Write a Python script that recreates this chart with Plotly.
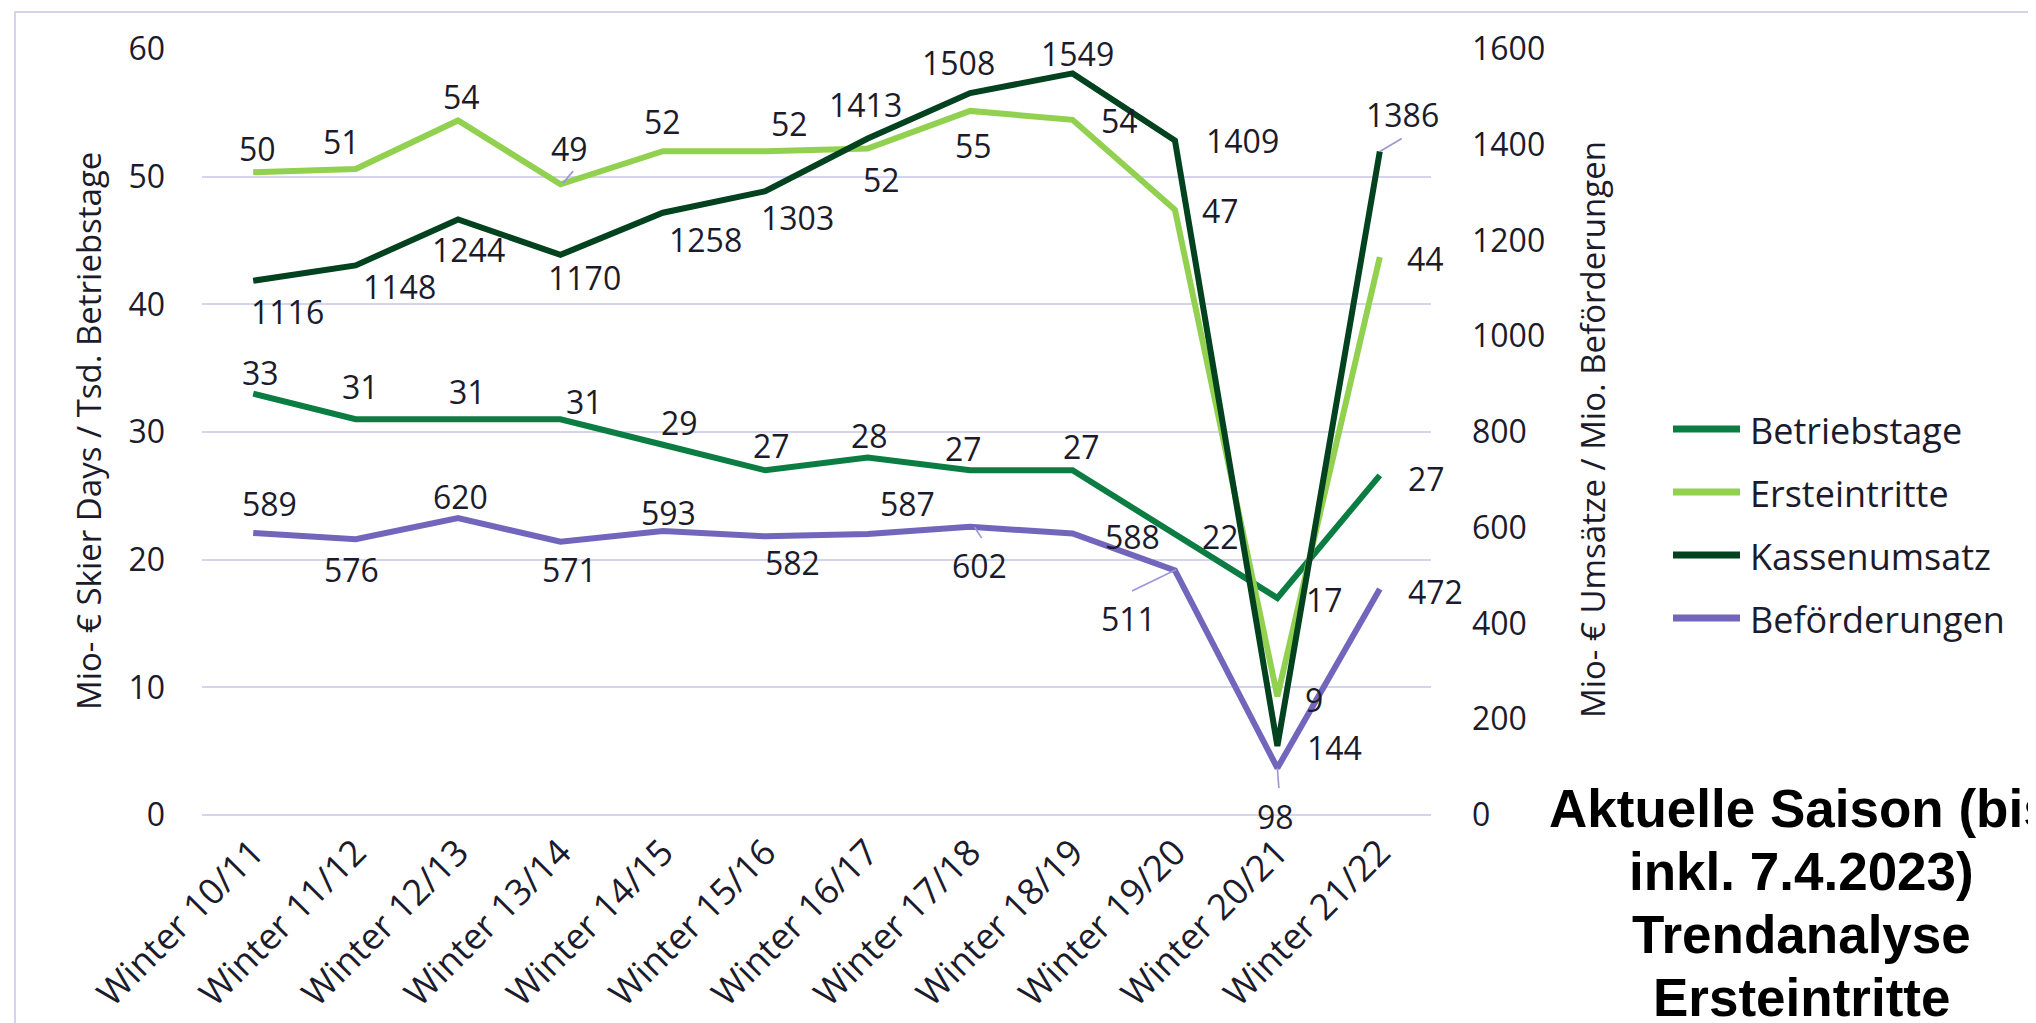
import plotly.graph_objects as go

# ---------------- data ----------------
categories = ["Winter 10/11", "Winter 11/12", "Winter 12/13", "Winter 13/14",
              "Winter 14/15", "Winter 15/16", "Winter 16/17", "Winter 17/18",
              "Winter 18/19", "Winter 19/20", "Winter 20/21", "Winter 21/22"]
betriebstage = [33, 31, 31, 31, 29, 27, 28, 27, 27, 22, 17, 26.6]
ersteintritte = [50.35, 50.6, 54.4, 49.4, 52.0, 52.0, 52.2, 55.15, 54.45, 47.4, 9.3, 43.7]
kassenumsatz = [1116, 1148, 1244, 1170, 1258, 1303, 1413, 1508, 1549, 1409, 144, 1386]
befoerderungen = [589, 576, 620, 571, 593, 582, 587, 602, 588, 511, 98, 472]

left_ticks = [0, 10, 20, 30, 40, 50, 60]
right_ticks = [0, 200, 400, 600, 800, 1000, 1200, 1400, 1600]

# ---------------- styles / positions ----------------
W, H = 2036, 1023
PL, PR, PT, PB = 194, 1423, 41, 807  # plot area in pixels

C_BETR = "#0B7D43"
C_ERST = "#92D050"
C_KASS = "#02421F"
C_BEF = "#7266BC"
C_TEXT = "#1B1B2B"
C_GRID = "#D6D4EC"
C_LEAD = "#9C96D6"
FONT = "Open Sans, Noto Sans, sans-serif"
LABEL_SIZE = 32

# label offsets (dx right, dy down) in pixels from each point
betr_off = [(7, -21), (5, -33), (9, -28), (24, -18), (17, -22), (6, -25), (2, -22),
            (-7, -22), (9, -24), (46, 2), (47, 2), (47, 3)]
erst_off = [(4, -24), (-14, -28), (3, -24), (9, -36), (0, -30), (24, -28), (14, 31),
            (3, 35), (47, 1), (46, 1), (37, 3), (46, 1)]
kass_off = [(34, 31), (44, 21), (10, 30), (24, 23), (43, 27), (32, 26), (-2, -34),
            (-12, -31), (5, -20), (68, 0), (57, 1), (23, -37)]
bef_off = [(16, -30), (-4, 30), (2, -22), (9, 28), (6, -19), (27, 26), (40, -30),
           (9, 39), (60, 3), (-46, 48), (-2, 48), (56, 2)]


def px_x(x):
    return (x - PL) / (PR - PL)


def px_y(y):
    return (PB - y) / (PB - PT)


fig = go.Figure()

series = [
    ("Betriebstage", betriebstage, C_BETR, "y", betr_off),
    ("Ersteintritte", ersteintritte, C_ERST, "y", erst_off),
    ("Kassenumsatz", kassenumsatz, C_KASS, "y2", kass_off),
    ("Beförderungen", befoerderungen, C_BEF, "y2", bef_off),
]

annotations = []
for name, vals, color, yax, offs in series:
    fig.add_trace(go.Scatter(
        x=categories, y=vals, name=name, mode="lines",
        line=dict(color=color, width=6), yaxis=yax, showlegend=False,
        hoverinfo="x+y+name",
    ))
    for cat, v, (dx, dy) in zip(categories, vals, offs):
        annotations.append(dict(
            x=cat, y=v, xref="x", yref=yax, text=f"{v:.0f}", showarrow=False,
            xshift=dx, yshift=-dy, xanchor="center", yanchor="middle",
            font=dict(family=FONT, size=LABEL_SIZE, color=C_TEXT),
        ))

shapes = []
# leader lines (pixel offsets relative to the point, y up)
leaders = [
    ("y", categories[3], ersteintritte[3], 2.6, 1.2, 12.6, 13.2),
    ("y2", categories[11], kassenumsatz[11], 0, 0, 22, 13),
    ("y2", categories[7], befoerderungen[7], 4.5, -0.3, 11.5, -11.3),
    ("y2", categories[9], befoerderungen[9], -43, -20.7, 1.4, 0.8),
    ("y2", categories[10], befoerderungen[10], 0, 0, 1.5, -20),
]
for yax, cat, v, x0, y0, x1, y1 in leaders:
    shapes.append(dict(
        type="line", xref="x", yref=yax, xsizemode="pixel", ysizemode="pixel",
        xanchor=cat, yanchor=v, x0=x0, y0=y0, x1=x1, y1=y1,
        line=dict(color=C_LEAD, width=1.6), layer="above",
    ))

# outer frame
shapes.append(dict(type="rect", xref="paper", yref="paper",
                   x0=px_x(7), x1=px_x(2200), y0=px_y(1200), y1=px_y(4),
                   line=dict(color="#D4D2EC", width=2), layer="below"))

# legend drawn manually (long line samples)
legend_items = [("Betriebstage", C_BETR), ("Ersteintritte", C_ERST),
                ("Kassenumsatz", C_KASS), ("Beförderungen", C_BEF)]
for k, (name, color) in enumerate(legend_items):
    yy = 421 + k * 63
    shapes.append(dict(type="line", xref="paper", yref="paper",
                       x0=px_x(1665), x1=px_x(1732), y0=px_y(yy), y1=px_y(yy),
                       line=dict(color=color, width=7)))
    annotations.append(dict(x=px_x(1740), y=px_y(yy + 1), xref="paper", yref="paper",
                            text=name, showarrow=False, xanchor="left", yanchor="middle",
                            font=dict(family=FONT, size=36, color=C_TEXT)))

# axis titles
annotations.append(dict(x=px_x(80), y=px_y(423), xref="paper", yref="paper",
                        text="Mio- € Skier Days / Tsd. Betriebstage", textangle=-90,
                        showarrow=False, xanchor="center", yanchor="middle",
                        font=dict(family=FONT, size=33, color=C_TEXT)))
annotations.append(dict(x=px_x(1584), y=px_y(422), xref="paper", yref="paper",
                        text="Mio- € Umsätze / Mio. Beförderungen", textangle=-90,
                        showarrow=False, xanchor="center", yanchor="middle",
                        font=dict(family=FONT, size=33, color=C_TEXT)))

# bold note
note_lines = ["Aktuelle Saison (bis", "inkl. 7.4.2023)", "Trendanalyse", "Ersteintritte"]
for k, txt in enumerate(note_lines):
    yb = 818 + k * 63.3
    annotations.append(dict(x=px_x(1793), y=px_y(yb - 18), xref="paper", yref="paper",
                            text=f"<b>{txt}</b>", showarrow=False,
                            xanchor="center", yanchor="middle",
                            font=dict(family="Liberation Sans, Arial, sans-serif",
                                      size=53, color="#000000")))

fig.update_layout(
    width=W, height=H, autosize=False,
    margin=dict(l=PL, r=W - PR, t=PT, b=H - PB, pad=0),
    paper_bgcolor="white", plot_bgcolor="white",
    showlegend=False,
    font=dict(family=FONT, color=C_TEXT),
    xaxis=dict(type="category", categoryorder="array", categoryarray=categories,
               range=[-0.5, len(categories) - 0.5], showgrid=False, zeroline=False,
               showline=False, ticks="", tickangle=-45,
               tickfont=dict(family=FONT, size=36, color=C_TEXT),
               ticklabelstandoff=8),
    yaxis=dict(range=[0, 60], tickmode="array", tickvals=left_ticks,
               ticktext=[str(t) for t in left_ticks],
               showgrid=True, gridcolor=C_GRID, gridwidth=2,
               zeroline=True, zerolinecolor=C_GRID, zerolinewidth=2,
               showline=False, ticks="",
               tickfont=dict(family=FONT, size=LABEL_SIZE, color=C_TEXT),
               ticklabelstandoff=36),
    yaxis2=dict(range=[0, 1600], tickmode="array", tickvals=right_ticks,
                ticktext=[str(t) for t in right_ticks],
                overlaying="y", side="right", showgrid=False, zeroline=False,
                showline=False, ticks="",
                tickfont=dict(family=FONT, size=LABEL_SIZE, color=C_TEXT),
                ticklabelstandoff=40),
    annotations=annotations,
    shapes=shapes,
)

fig.write_html("out.html")
